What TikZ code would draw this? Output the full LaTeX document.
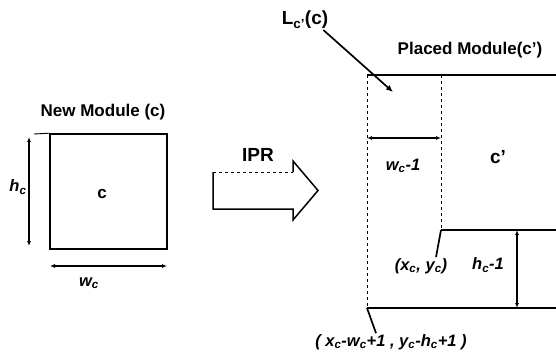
\documentclass[tikz,border=0pt]{standalone}
\usepackage{fontspec}
\setmainfont{Liberation Sans}
\usetikzlibrary{arrows.meta}

\newcommand{\sbs}[2]{\textit{#1}\textsubscript{\textit{#2}}}

\begin{document}
\begin{tikzpicture}[x=1pt,y=-1pt,
 ttl/.style={font=\bfseries\fontsize{17}{19}\selectfont,inner sep=1pt},
 sym/.style={font=\bfseries\itshape\fontsize{16.5}{18}\selectfont,inner sep=1pt},
 dimarr/.style={{Latex[length=5pt,width=4pt]}-{Latex[length=5pt,width=4pt]},line width=1.5pt},
 edge/.style={line width=1.8pt},
 guide/.style={dashed,line width=0.9pt},
 ptr/.style={line width=1.7pt}]
\useasboundingbox (0,0) rectangle (556,358);

% new module c
\node[ttl] (newlbl) at (103,112) {New Module (c)};
\node[draw,line width=1.6pt,minimum width=117pt,minimum height=115pt,inner sep=0pt] (newm) at (108.5,191.5) {};
\node[ttl] (cin) at (102,194) {c};
\coordinate (htop) at (29,137);
\coordinate (hbot) at (29,246);
\coordinate (hext) at (34,134);
\draw[line width=0.9pt] (hext) -- (newm.north west);
\draw[dimarr] (htop) -- (hbot);
\node[sym] (hlbl) at (18,187) {\sbs{h}{c}};
\coordinate (wleft) at (50,266);
\coordinate (wright) at (167,266);
\draw[dimarr] (wleft) -- (wright);
\node[sym] (wlbl) at (89,283) {\sbs{w}{c}};

% IPR block arrow
\node[ttl,font=\bfseries\fontsize{19}{21}\selectfont] (ipr) at (258,155) {IPR};
\draw[line width=1.5pt] (213,172) -- (213,209) -- (293,209) -- (293,220) -- (318,190.5) -- (293,161) -- (293,172);
\draw[line width=1pt,dashed] (213,172) -- (293,172);

% placed module c' and the L region
\coordinate (ltl) at (367,75);
\coordinate (ltr) at (441,75);
\coordinate (rtop) at (556,75);
\coordinate (cbl) at (441,230);
\coordinate (cbr) at (556,230);
\coordinate (lbot) at (367,308);
\coordinate (rbot) at (556,308);
\draw[edge] (ltl) -- (rtop);
\draw[guide] (ltl) -- (lbot);
\draw[guide] (ltr) -- (cbl);
\draw[edge] (cbl) -- (cbr);
\draw[edge] (lbot) -- (rbot);
\node[ttl] (plbl) at (470,50) {Placed Module(c')};
\node[ttl,font=\bfseries\fontsize{19}{21}\selectfont] (cp) at (498,157) {c'};

\node[ttl,font=\bfseries\fontsize{19}{21}\selectfont] (Llbl) at (305,20) {L\textsubscript{c'}(c)};
\coordinate (ltip) at (393,92);
\draw[ptr,-{Latex[length=7pt,width=6pt]}] ([xshift=-6pt]Llbl.south east) -- (ltip);

\coordinate (wmleft) at (367,138);
\coordinate (wmright) at (441,138);
\draw[dimarr] (wmleft) -- (wmright);
\node[sym] (wm1) at (403,166) {\sbs{w}{c}-1};

\coordinate (hmtop) at (517,230);
\coordinate (hmbot) at (517,308);
\draw[dimarr] (hmtop) -- (hmbot);
\node[sym] (hm1) at (488,265) {\sbs{h}{c}-1};

\node[sym] (corner) at (421,266) {(\sbs{x}{c}, \sbs{y}{c})};
\draw[ptr] ([xshift=15pt]corner.north) -- (cbl);
\node[sym] (orig) at (391,342) {( \sbs{x}{c}-\sbs{w}{c}+1 , \sbs{y}{c}-\sbs{h}{c}+1 )};
\draw[ptr] ([xshift=-15pt]orig.north) -- (lbot);
\end{tikzpicture}
\end{document}
